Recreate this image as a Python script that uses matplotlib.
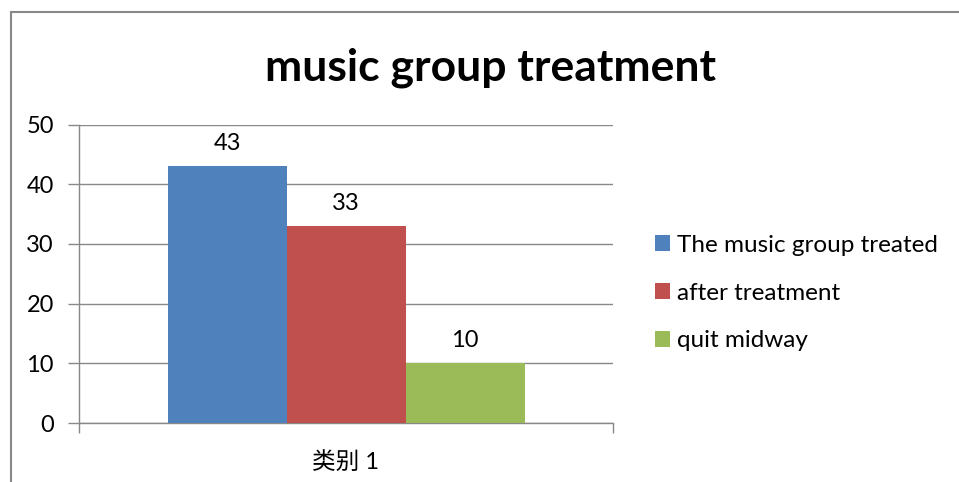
import matplotlib
matplotlib.use("Agg")
import matplotlib.pyplot as plt
from matplotlib.patches import Rectangle

plt.rcParams['font.family'] = ['Lato', 'Noto Sans CJK SC', 'DejaVu Sans']

# data
categories = ['类别 1']
series_names = ['The music group treated', 'after treatment', 'quit midway']
series_values = [43, 33, 10]
series_colors = ['#4F81BD', '#C0504D', '#9BBB59']
y_ticks = [0, 10, 20, 30, 40, 50]

fig = plt.figure(figsize=(9.59, 4.82), dpi=100)
ax = fig.add_axes([79 / 959, 59 / 482, 534 / 959, 298.5 / 482])

# outer chart frame (cut off at right/bottom like the reference)
fig.patches.append(Rectangle((10.5 / 959, -0.1), 1.2, (470 / 482) + 0.1,
                             transform=fig.transFigure, fill=False,
                             edgecolor='#888888', linewidth=1.5))

fs = 17
width = 119 / 534
for i, (name, val, col) in enumerate(zip(series_names, series_values, series_colors)):
    x = (i - 1) * width
    ax.bar(x, val, width=width, color=col, label=name, zorder=3)
    ax.text(x, val + 2.0, str(val), ha='center', va='bottom', fontsize=fs)

ax.set_xlim(-0.5, 0.5)
ax.set_ylim(0, 50)
ax.set_yticks(y_ticks)
ax.yaxis.grid(True, color='#888888', linewidth=1, zorder=0)
ax.tick_params(axis='y', length=8, width=1, color='#888888', labelsize=fs, pad=10)
ax.set_xticks([0])
ax.set_xticklabels(categories, fontsize=fs)
ax.tick_params(axis='x', which='major', length=0, pad=20)
ax.set_xticks([-0.5, 0.5], minor=True)
ax.tick_params(axis='x', which='minor', length=7, width=1, color='#888888')
for s in ['top', 'right']:
    ax.spines[s].set_visible(False)
for s in ['left', 'bottom']:
    ax.spines[s].set_color('#888888')
    ax.spines[s].set_linewidth(1)

fig.text(490 / 959, 1 - 68 / 482, 'music group treatment', ha='center', va='center',
         fontsize=32, fontweight='bold')

ax.legend(loc='center left', bbox_to_anchor=((655 - 79) / 534, 130 / 298.5),
          frameon=False, fontsize=17.5, handlelength=0.62, handleheight=0.62,
          handletextpad=0.3, labelspacing=1.1, borderaxespad=0, borderpad=0)

fig.savefig('out.png', dpi=100)
